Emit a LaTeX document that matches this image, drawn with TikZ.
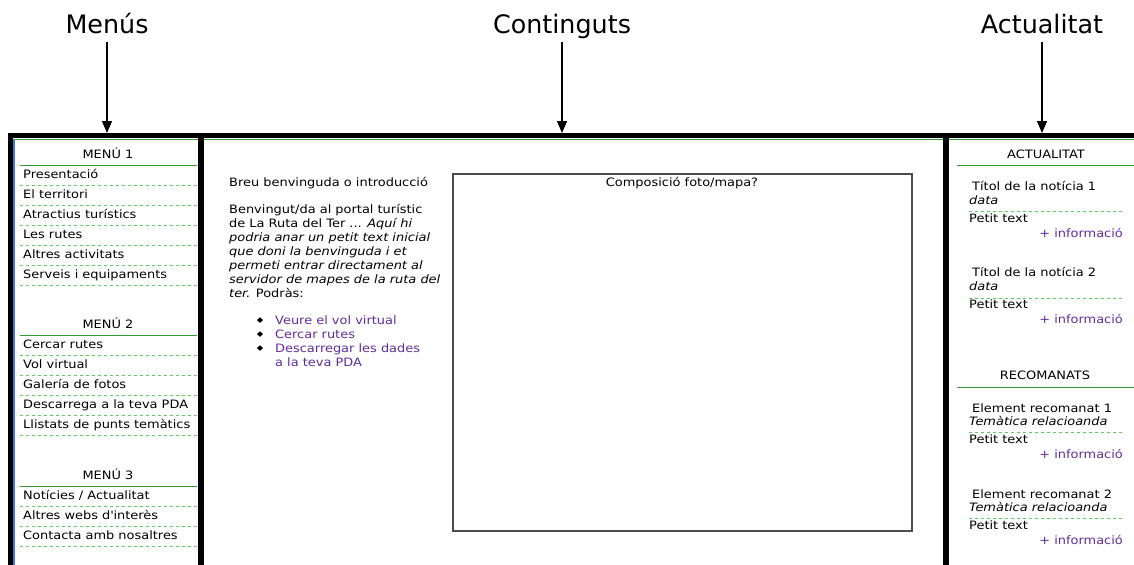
\documentclass[tikz,border=0pt]{standalone}
\usepackage{fontspec}
\setmainfont{DejaVu Sans}[FakeStretch=1.12]
\newfontfamily\titlefont{DejaVu Sans}
\usetikzlibrary{arrows.meta}

\definecolor{linkpurple}{RGB}{96,44,156}
\definecolor{rulegreen}{RGB}{50,155,50}
\definecolor{dashgreen}{RGB}{90,205,90}
\definecolor{edgeblue}{RGB}{58,118,222}

\tikzset{
  title/.style={font=\titlefont\fontsize{25.5}{30}\selectfont, anchor=base,
    text depth=0.25em, inner sep=2pt},
  pointer/.style={-{Triangle[width=10pt,length=12pt]}, line width=1.3pt,
    shorten <=3pt},
  wall/.style={line width=5.5bp, line join=miter},
  txt/.style={font=\fontsize{11.6}{13}\selectfont, anchor=mid west, inner sep=0pt},
  head/.style={txt, anchor=mid},
  more/.style={txt, anchor=mid east, text=linkpurple},
  link/.style={txt, text=linkpurple},
  bullet/.style={font=\fontsize{7.5}{9}\selectfont, anchor=mid, inner sep=0pt},
  greenrule/.style={draw=rulegreen, line width=1.3bp},
  dashrule/.style={draw=dashgreen, line width=1.3bp, dash pattern=on 3bp off 3bp},
  photobox/.style={draw=black!70, line width=1.2bp}
}

\begin{document}
\begin{tikzpicture}[x=1bp,y=-1bp]
  \useasboundingbox (0,0) rectangle (1134,565);

  % titles and pointers
  \node[title] (menus) at (107,34) {Menús};
  \node[title] (continguts) at (562,34) {Continguts};
  \node[title] (actualitat) at (1042,34) {Actualitat};
  \coordinate (menusbar) at (107,133);
  \coordinate (contingutsbar) at (562,133);
  \coordinate (actualitatbar) at (1042,133);
  \draw[pointer] (menus) -- (menusbar);
  \draw[pointer] (continguts) -- (contingutsbar);
  \draw[pointer] (actualitat) -- (actualitatbar);

  % page frame
  \draw[edgeblue, line width=1.6bp] (14,139) -- (14,565);
  \draw[rulegreen, line width=1bp] (13,139.5) -- (1134,139.5);
  \draw[wall] (10.5,565) |- (1134,135.5);
  \draw[wall] (201,133) -- (201,565);
  \draw[wall] (946,133) -- (946,565);

  % menu 1
  \node[head] (m1) at (108,156) {MENÚ 1};
  \draw[greenrule] (20,165.5) -- (197,165.5);
  \node[txt] (m1a) at (23,176) {Presentació};
  \node[txt] (m1b) at (23,196) {El territori};
  \node[txt] (m1c) at (23,216) {Atractius turístics};
  \node[txt] (m1d) at (23,236) {Les rutes};
  \node[txt] (m1e) at (23,256) {Altres activitats};
  \node[txt] (m1f) at (23,276) {Serveis i equipaments};
  \draw[dashrule] (20,185.5) -- (197,185.5);
  \draw[dashrule] (20,205.5) -- (197,205.5);
  \draw[dashrule] (20,225.5) -- (197,225.5);
  \draw[dashrule] (20,245.5) -- (197,245.5);
  \draw[dashrule] (20,265.5) -- (197,265.5);
  \draw[dashrule] (20,285.5) -- (197,285.5);

  % menu 2
  \node[head] (m2) at (108,326) {MENÚ 2};
  \draw[greenrule] (20,335.5) -- (197,335.5);
  \node[txt] (m2a) at (23,346) {Cercar rutes};
  \node[txt] (m2b) at (23,366) {Vol virtual};
  \node[txt] (m2c) at (23,386) {Galería de fotos};
  \node[txt] (m2d) at (23,406) {Descarrega a la teva PDA};
  \node[txt] (m2e) at (23,426) {Llistats de punts temàtics};
  \draw[dashrule] (20,355.5) -- (197,355.5);
  \draw[dashrule] (20,375.5) -- (197,375.5);
  \draw[dashrule] (20,395.5) -- (197,395.5);
  \draw[dashrule] (20,415.5) -- (197,415.5);
  \draw[dashrule] (20,435.5) -- (197,435.5);

  % menu 3
  \node[head] (m3) at (108,477) {MENÚ 3};
  \draw[greenrule] (20,486.5) -- (197,486.5);
  \node[txt] (m3a) at (23,497) {Notícies / Actualitat};
  \node[txt] (m3b) at (23,517) {Altres webs d\textquotesingle interès};
  \node[txt] (m3c) at (23,537) {Contacta amb nosaltres};
  \draw[dashrule] (20,506.5) -- (197,506.5);
  \draw[dashrule] (20,526.5) -- (197,526.5);
  \draw[dashrule] (20,546.5) -- (197,546.5);

  % contents
  \node[txt] (intro) at (229,184) {Breu benvinguda o introducció};
  \node[txt] (p1) at (229,211) {Benvingut/da al portal turístic};
  \node[txt] (p2) at (229,225) {de La Ruta del Ter ... \textit{Aquí hi}};
  \node[txt] (p3) at (229,239) {\textit{podria anar un petit text inicial}};
  \node[txt] (p4) at (229,253) {\textit{que doni la benvinguda i et}};
  \node[txt] (p5) at (229,267) {\textit{permeti entrar directament al}};
  \node[txt] (p6) at (229,281) {\textit{servidor de mapes de la ruta del}};
  \node[txt] (p7) at (229,295) {\textit{ter.} Podràs:};
  \node[bullet] (b1) at (260,320) {◆};
  \node[bullet] (b2) at (260,334) {◆};
  \node[bullet] (b3) at (260,348) {◆};
  \node[link] (l1) at (275,322) {Veure el vol virtual};
  \node[link] (l2) at (275,336) {Cercar rutes};
  \node[link] (l3) at (275,350) {Descarregar les dades};
  \node[link] (l4) at (275,364) {a la teva PDA};
  \draw[photobox] (453,174) rectangle (912,531);
  \node[head] (photo) at (682,184) {Composició foto/mapa?};

  % news
  \node[head] (news) at (1046,156) {ACTUALITAT};
  \draw[greenrule] (957,165.5) -- (1134,165.5);
  \node[txt] (n1) at (972,188) {Títol de la notícia 1};
  \node[txt] (n1d) at (969,202) {\textit{data}};
  \draw[dashrule] (969,211.5) -- (1123,211.5);
  \node[txt] (n1t) at (969,220) {Petit text};
  \node[more] (n1m) at (1123,235) {+ informació};
  \node[txt] (n2) at (972,274) {Títol de la notícia 2};
  \node[txt] (n2d) at (969,288) {\textit{data}};
  \draw[dashrule] (969,298.5) -- (1123,298.5);
  \node[txt] (n2t) at (969,306) {Petit text};
  \node[more] (n2m) at (1123,321) {+ informació};

  % recommended
  \node[head] (rec) at (1045,377) {RECOMANATS};
  \draw[greenrule] (957,387.5) -- (1134,387.5);
  \node[txt] (r1) at (972,410) {Element recomanat 1};
  \node[txt] (r1d) at (969,423) {\textit{Temàtica relacioanda}};
  \draw[dashrule] (969,432.5) -- (1123,432.5);
  \node[txt] (r1t) at (969,441) {Petit text};
  \node[more] (r1m) at (1123,456) {+ informació};
  \node[txt] (r2) at (972,496) {Element recomanat 2};
  \node[txt] (r2d) at (969,509) {\textit{Temàtica relacioanda}};
  \draw[dashrule] (969,518.5) -- (1123,518.5);
  \node[txt] (r2t) at (969,527) {Petit text};
  \node[more] (r2m) at (1123,542) {+ informació};
\end{tikzpicture}
\end{document}
